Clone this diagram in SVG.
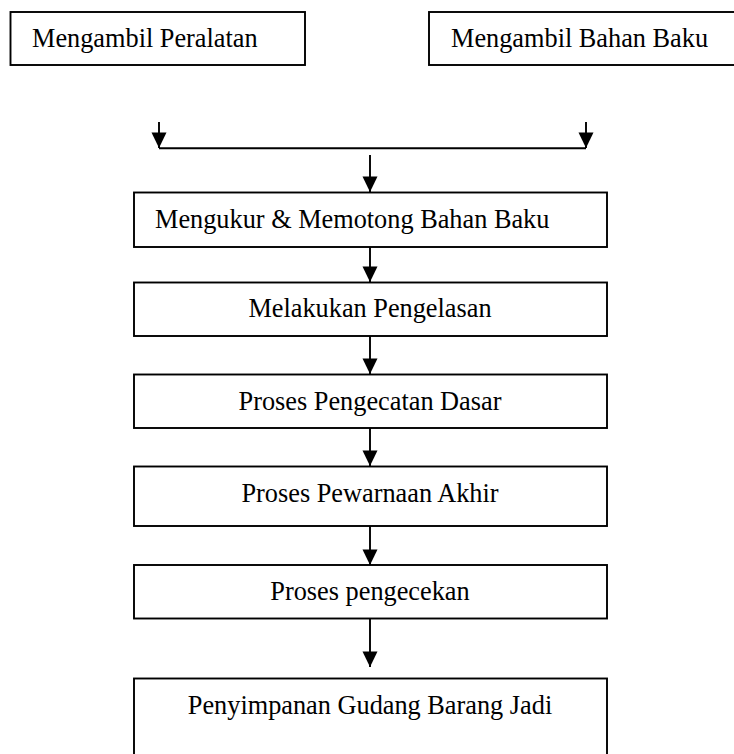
<svg xmlns="http://www.w3.org/2000/svg" width="734" height="754" viewBox="0 0 734 754">
  <style>
    .box { fill: #ffffff; stroke: #000000; stroke-width: 1.9; }
    .lbl { font-family: "Liberation Serif", "Times New Roman", serif; font-size: 26.3px; fill: #000000; }
    .mid { text-anchor: middle; }
    .conn { stroke: #000000; stroke-width: 1.9; fill: none; }
  </style>
  <defs>
    <marker id="arrowDown" markerUnits="userSpaceOnUse" markerWidth="16" markerHeight="16" viewBox="-8 -16 16 16" refX="0" refY="0" orient="0">
      <path d="M-7.5,-15.5 L7.5,-15.5 L0,0 Z" fill="#000000"/>
    </marker>
  </defs>

  <g id="node-peralatan">
    <rect class="box" x="10.5" y="12" width="294.5" height="53"/>
    <text class="lbl" x="32" y="47">Mengambil Peralatan</text>
  </g>
  <g id="node-bahan">
    <rect class="box" x="429" y="12" width="330" height="53"/>
    <text class="lbl" x="451" y="47">Mengambil Bahan Baku</text>
  </g>

  <g id="connectors">
    <line class="conn" x1="159" y1="122" x2="159" y2="148" marker-end="url(#arrowDown)"/>
    <line class="conn" x1="586" y1="122" x2="586" y2="148" marker-end="url(#arrowDown)"/>
    <line class="conn" x1="159" y1="148.3" x2="586" y2="148.3"/>
    <line class="conn" x1="370" y1="155" x2="370" y2="192" marker-end="url(#arrowDown)"/>
    <line class="conn" x1="370" y1="247" x2="370" y2="282" marker-end="url(#arrowDown)"/>
    <line class="conn" x1="370" y1="336" x2="370" y2="374" marker-end="url(#arrowDown)"/>
    <line class="conn" x1="370" y1="428" x2="370" y2="466" marker-end="url(#arrowDown)"/>
    <line class="conn" x1="370" y1="526" x2="370" y2="565" marker-end="url(#arrowDown)"/>
    <line class="conn" x1="370" y1="618.5" x2="370" y2="667" marker-end="url(#arrowDown)"/>
  </g>

  <g id="node-mengukur">
    <rect class="box" x="134" y="192.5" width="473" height="54.5"/>
    <text class="lbl" x="155" y="228">Mengukur &amp; Memotong Bahan Baku</text>
  </g>
  <g id="node-pengelasan">
    <rect class="box" x="134" y="282.5" width="473" height="53.5"/>
    <text class="lbl mid" x="370" y="317">Melakukan Pengelasan</text>
  </g>
  <g id="node-pengecatan">
    <rect class="box" x="134" y="374.5" width="473" height="53.5"/>
    <text class="lbl mid" x="370" y="410">Proses Pengecatan Dasar</text>
  </g>
  <g id="node-pewarnaan">
    <rect class="box" x="134" y="466.5" width="473" height="59.5"/>
    <text class="lbl mid" x="370" y="502">Proses Pewarnaan Akhir</text>
  </g>
  <g id="node-pengecekan">
    <rect class="box" x="134" y="565" width="473" height="53.5"/>
    <text class="lbl mid" x="370" y="599.5">Proses pengecekan</text>
  </g>
  <g id="node-penyimpanan">
    <rect class="box" x="134" y="678.5" width="473" height="90"/>
    <text class="lbl mid" x="370" y="713.5">Penyimpanan Gudang Barang Jadi</text>
  </g>
</svg>
